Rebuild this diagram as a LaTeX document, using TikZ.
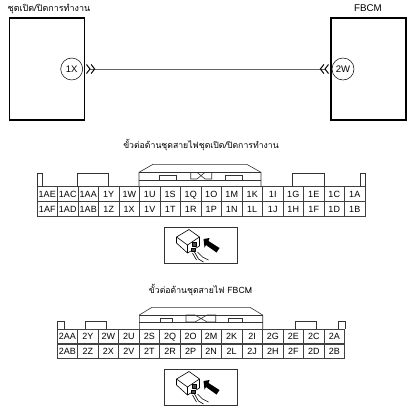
\documentclass[tikz,border=0pt]{standalone}
\usepackage{fontspec}
\setmainfont{Liberation Sans}
\newfontfamily\thaifont[Script=Thai]{Loma}
\usetikzlibrary{arrows.meta,positioning}
\tikzset{
    %Define style for boxes
    unit/.style={
           rectangle,
           draw=black, line width=1.3pt,
           minimum width=75pt,
           minimum height=102pt},
    port/.style={
           circle,
           draw=black, line width=.5pt,
           fill=white,
           inner sep=0pt,
           minimum size=22pt,
           font=\fontsize{9.5}{11}\selectfont},
    % Define wire style
    wire/.style={
           {Straight Barb[reversed,length=3.5pt,width=9pt,black]Straight Barb[reversed,length=3.5pt,width=9pt,black]}-{Straight Barb[reversed,length=3.5pt,width=9pt,black]Straight Barb[reversed,length=3.5pt,width=9pt,black]},
           draw=black!60,
           line width=1pt},
    % Define connector styles
    pinbox/.style={
           rectangle,
           draw=black!75, line width=.6pt,
           inner sep=0pt,
           text height=6.5pt,
           text depth=0pt,
           minimum width=20.5pt,
           minimum height=15pt,
           font=\fontsize{9}{10}\selectfont},
    shell/.style={
           draw=black!80,
           line width=.6pt},
    title/.style={
           inner sep=0pt,
           font=\thaifont\fontsize{8.7}{10}\selectfont},
    viewbox/.style={
           rectangle,
           draw=black!80, line width=.6pt,
           minimum width=73pt,
           minimum height=36pt}
}
% plug with viewing arrow, drawn from the centre of its box
\newcommand{\plugview}[1]{
    \begin{scope}[shift={(#1)},line width=.6pt,line join=round]
      \draw (-24,-8) -- (-11.5,-15.5) -- (-1,-8) -- (-1,1) -- (-13,8) -- (-24,-2) -- cycle;
      \draw (-24,-8) -- (-13,0) -- (-1,-8) (-13,0) -- (-13,8);
      \draw[fill=black!70] (-8,-3) rectangle (-4,1) (-9,3) rectangle (-5,6);
      \draw (-6,7) -- (-2,14) -- (3,17) (-3,7) -- (2,12) -- (8,15) (-8,8) -- (-4,15);
      \fill (3,-6) -- (9,-7) -- (8,-4) -- (19,3) -- (16,7.5) -- (5.5,0) -- (4,2.5) -- cycle;
    \end{scope}
}
\begin{document}
\begin{tikzpicture}[x=1pt,y=-1pt]
    \useasboundingbox (0,0) rectangle (408,408);
 %top units
    \node[unit] (sw) at (46.7,69) {};
    \node[unit] (fbcm) at (368.5,69) {};
    \node[title,font=\thaifont\fontsize{9}{10}\selectfont] (swname) at (49,9.5) {ชุดเปิด/ปิดการทำงาน};
    \node[title,font=\fontsize{9.8}{11}\selectfont] (fbcmname) at (368,8.5) {FBCM};
    \node[port] (p1X) at (71.7,69) {1X};
    \node[port] (p2W) at (343,69) {2W};
    \coordinate (wa) at (86,69);
    \coordinate (wb) at (329,69);
 %wire
    \draw[wire] (wa) -- (wb);
 %first connector
    \node[title] (title1) at (201,145) {ขั้วต่อด้านชุดสายไฟชุดเปิด/ปิดการทำงาน};
    \foreach \pa/\pb [count=\i] in {1AE/1AF,1AC/1AD,1AA/1AB,1Y/1Z,1W/1X,1U/1V,1S/1T,1Q/1R,1O/1P,1M/1N,1K/1L,1I/1J,1G/1H,1E/1F,1C/1D,1A/1B}{
      \node[pinbox] (c\pa) at ({37+20.5*(\i-.5)},194) {\pa};
      \node[pinbox] (c\pb) at ({37+20.5*(\i-.5)},209) {\pb};
    }
    \draw[shell] (37,186.5) |- (42,173) -- (42,186.5);
    \draw[shell] (77.5,186.5) |- (108.5,173) -- (108.5,186.5);
    \draw[shell] (139,186.5) -- (139,172.3) -- (153,164.3) -- (246.7,164.3) -- (261,172.3) -- (261,186.5);
    \draw[shell] (139,172.3) -- (261,172.3) (139,180) -- (261,180);
    \draw[shell] (159.3,180) |- (176.7,175.7) -- (176.7,180);
    \draw[shell] (225,180) |- (242.7,175.7) -- (242.7,180);
    \draw[shell] (190.7,172.3) -- (190.7,179) -- (197,179) -- (205,172.3) -- (211.7,172.3) -- (211.7,179) -- (205,179) -- (197,172.3) -- cycle;
    \draw[shell] (292.7,186.5) |- (324,173) -- (324,186.5);
    \draw[shell] (360,186.5) |- (365,173) -- (365,186.5);
 %first view
    \node[viewbox] (view1) at (200.5,245) {};
    \plugview{200.5,245}
 %second connector
    \node[title] (title2) at (200.5,290) {ขั้วต่อด้านชุดสายไฟ FBCM};
    \foreach \pa/\pb [count=\i] in {2AA/2AB,2Y/2Z,2W/2X,2U/2V,2S/2T,2Q/2R,2O/2P,2M/2N,2K/2L,2I/2J,2G/2H,2E/2F,2C/2D,2A/2B}{
      \node[pinbox] (d\pa) at ({57+20.55*(\i-.5)},336.5) {\pa};
      \node[pinbox] (d\pb) at ({57+20.55*(\i-.5)},351) {\pb};
    }
    \draw[shell] (57,329) |- (64,321) -- (64,329);
    \draw[shell] (85,329) |- (106,321) -- (106,329);
    \draw[shell] (139.3,329) -- (139.3,315) -- (152,307.3) -- (250,307.3) -- (262.7,315) -- (262.7,329);
    \draw[shell] (139.3,315) -- (262.7,315) (139.3,322.7) -- (262.7,322.7);
    \draw[shell] (160,322.7) |- (172.7,318.3) -- (172.7,322.7);
    \draw[shell] (228.3,322.7) |- (242.3,318.3) -- (242.3,322.7);
    \draw[shell] (186,315) -- (186,322) -- (195,322) -- (207,315) -- (215.7,315) -- (215.7,322) -- (207,322) -- (195,315) -- cycle;
    \draw[shell] (295.7,329) |- (316.7,321) -- (316.7,329);
    \draw[shell] (338,329) |- (345,321) -- (345,329);
 %second view
    \node[viewbox] (view2) at (200.5,387) {};
    \plugview{200.5,387}
\end{tikzpicture}
\end{document}
